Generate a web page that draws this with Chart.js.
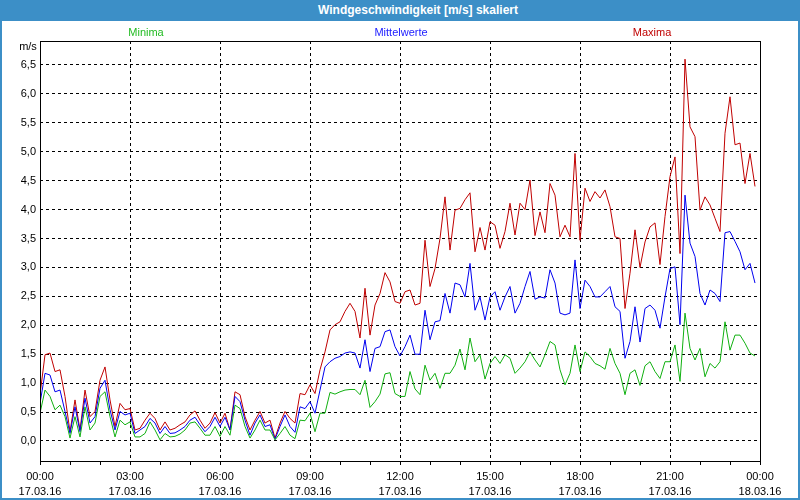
<!DOCTYPE html>
<html>
<head>
<meta charset="utf-8">
<script src="https://cdn.jsdelivr.net/npm/chart.js@4/dist/chart.umd.min.js"></script>
<style>
  html, body { margin: 0; padding: 0; background: #fff; }
  #win { position: relative; width: 800px; height: 500px; background: #3c8fc7; overflow: hidden;
         font-family: "Liberation Sans", Arial, sans-serif; }
  #title { position: absolute; left: 0; top: 0; width: 800px; height: 21px; line-height: 20px;
           color: #fff; font-weight: bold; font-size: 12px; }
  #title span { position: absolute; left: 418px; transform: translateX(-50%); white-space: nowrap; }
  #body { position: absolute; left: 2px; top: 21px; width: 796px; height: 477px; background: #fff; }
  .lbl { position: absolute; font-size: 11px; white-space: nowrap; transform: translate(-50%, -50%); }
</style>
</head>
<body>
<div id="win">
  <div id="title"><span>Windgeschwindigkeit [m/s] skaliert</span></div>
  <div id="body"><canvas id="windChart" width="796" height="477"></canvas></div>
  <div class="lbl" style="left:146px; top:32px; color:#22bb22">Minima</div>
  <div class="lbl" style="left:401px; top:32px; color:#2020ff">Mittelwerte</div>
  <div class="lbl" style="left:652px; top:32px; color:#c00000">Maxima</div>
  <div class="lbl" style="left:28px; top:46px; color:#000">m/s</div>
</div>
<script>
// 10-minute values, 17.03.16 00:00 .. 23:50
var stepHours = 1 / 6;

var minima = [0.48, 0.88, 0.77, 0.54, 0.62, 0.42, 0.05, 0.42, 0.07, 0.59, 0.19, 0.31, 0.77, 0.85, 0.42, 0.07, 0.36, 0.28, 0.33, 0.07, 0.07, 0.13, 0.33, 0.19, 0.02, 0.13, 0.07,
  0.08, 0.12, 0.19, 0.31, 0.33, 0.22, 0.10, 0.10, 0.25, 0.08, 0.25, 0.10, 0.62, 0.56, 0.25, 0.05, 0.19, 0.36, 0.19, 0.19, 0.02, 0.13, 0.25,
  0.10, 0.04, 0.36, 0.35, 0.48, 0.16, 0.48, 0.48, 0.84, 0.81, 0.85, 0.88, 0.89, 0.89, 0.80, 1.05, 0.58, 0.68, 0.81, 1.16, 1.18, 0.82, 0.77, 0.77, 1.20, 0.90, 0.80,
  1.31, 1.05, 1.17, 0.91, 1.17, 1.17, 1.31, 1.59, 1.23, 1.78, 1.37, 1.49, 1.07, 1.34, 1.46, 1.34, 1.49, 1.43, 1.17, 1.26, 1.37,
  1.54, 1.40, 1.28, 1.49, 1.72, 1.66, 1.23, 0.97, 1.17, 1.66, 1.20, 1.54, 1.46, 1.34, 1.30, 1.24, 1.60, 1.34, 1.17, 0.80, 1.17, 1.23,
  0.96, 1.30, 1.37, 1.20, 1.08, 1.37, 1.37, 1.66, 1.03, 2.21, 1.60, 1.40, 1.60, 1.11, 1.34, 1.26, 1.37, 2.06, 1.57, 1.83, 1.83, 1.69, 1.52, 1.47];

var mittelwerte = [0.65, 1.17, 1.14, 0.85, 0.88, 0.51, 0.13, 0.59, 0.16, 0.74, 0.31, 0.42, 0.91, 1.05, 0.54, 0.19, 0.51, 0.45, 0.48, 0.13, 0.19, 0.25, 0.39, 0.31, 0.13, 0.25, 0.13,
  0.14, 0.19, 0.25, 0.36, 0.41, 0.28, 0.16, 0.25, 0.41, 0.25, 0.41, 0.19, 0.77, 0.68, 0.36, 0.10, 0.31, 0.45, 0.25, 0.28, 0.03, 0.25, 0.45,
  0.25, 0.15, 0.59, 0.56, 0.68, 0.48, 0.88, 1.28, 1.37, 1.43, 1.46, 1.52, 1.54, 1.52, 1.26, 1.75, 1.20, 1.60, 1.63, 1.89, 1.92, 1.63, 1.47, 1.63, 1.83, 1.50, 1.50,
  2.26, 1.75, 2.06, 2.08, 2.55, 2.21, 2.73, 2.70, 2.49, 3.07, 2.26, 2.49, 2.09, 2.49, 2.58, 2.26, 2.49, 2.67, 2.21, 2.38, 2.67,
  2.93, 2.45, 2.49, 2.47, 2.96, 2.73, 2.21, 2.18, 2.21, 3.13, 2.29, 2.78, 2.67, 2.49, 2.49, 2.58, 2.67, 2.32, 2.24, 1.43, 1.72, 2.32,
  1.71, 2.29, 2.35, 2.26, 1.95, 2.49, 2.98, 3.01, 2.01, 4.25, 3.42, 3.19, 2.55, 2.35, 2.61, 2.55, 2.41, 3.60, 3.62, 3.45, 3.27, 2.96, 3.07, 2.73];

var maxima = [0.80, 1.49, 1.52, 1.20, 1.23, 0.77, 0.16, 0.71, 0.19, 0.88, 0.42, 0.51, 1.05, 1.28, 0.71, 0.25, 0.65, 0.54, 0.56, 0.19, 0.22, 0.36, 0.48, 0.39, 0.19, 0.33, 0.19,
  0.22, 0.28, 0.33, 0.45, 0.52, 0.36, 0.22, 0.31, 0.49, 0.31, 0.48, 0.19, 0.85, 0.80, 0.42, 0.19, 0.36, 0.51, 0.31, 0.36, 0.05, 0.31, 0.51,
  0.39, 0.31, 0.82, 0.80, 0.97, 0.82, 1.23, 1.54, 1.92, 2.01, 2.06, 2.24, 2.38, 2.24, 1.78, 2.64, 1.83, 2.35, 2.55, 2.91, 2.75, 2.41, 2.38, 2.58, 2.61, 2.35, 2.38,
  3.47, 2.67, 2.98, 3.50, 4.22, 3.30, 3.99, 4.02, 4.17, 4.29, 3.27, 3.69, 3.30, 3.79, 3.73, 3.33, 3.62, 4.11, 3.56, 4.11, 4.00,
  4.51, 3.55, 3.96, 3.60, 4.45, 4.25, 3.53, 3.73, 3.53, 4.97, 3.47, 4.37, 4.14, 4.31, 4.20, 4.34, 4.05, 3.53, 3.50, 2.29, 2.90, 3.65,
  3.00, 3.44, 3.70, 3.77, 3.05, 3.88, 4.57, 4.91, 3.24, 6.60, 5.43, 5.26, 3.99, 4.22, 4.08, 3.85, 3.62, 5.32, 5.95, 5.12, 5.15, 4.45, 4.97, 4.40];

var xTickTimes = ["00:00", "03:00", "06:00", "09:00", "12:00", "15:00", "18:00", "21:00", "00:00"];
var xTickDates = ["17.03.16", "17.03.16", "17.03.16", "17.03.16", "17.03.16", "17.03.16", "17.03.16", "17.03.16", "18.03.16"];
var yTicks = [0, 0.5, 1, 1.5, 2, 2.5, 3, 3.5, 4, 4.5, 5, 5.5, 6, 6.5];

function toPoints(values) {
  return values.map(function (v, i) { return { x: i * stepHours, y: v }; });
}

var frame = {
  id: 'frame',
  afterDraw: function (chart) {
    var a = chart.chartArea, ctx = chart.ctx;
    ctx.save();
    ctx.strokeStyle = '#000';
    ctx.lineWidth = 1;
    ctx.setLineDash([]);
    ctx.strokeRect(a.left + 0.5, a.top + 0.5, a.right - a.left, a.bottom - a.top);
    ctx.restore();
  }
};

Chart.defaults.font.family = '"Liberation Sans", Arial, sans-serif';
Chart.defaults.font.size = 11;
Chart.defaults.color = '#000';

var ctx = document.getElementById('windChart').getContext('2d');
var windChart = new Chart(ctx, {
  type: 'line',
  data: {
    datasets: [
      { label: 'Minima', data: toPoints(minima), borderColor: '#10b010' },
      { label: 'Mittelwerte', data: toPoints(mittelwerte), borderColor: '#0000f0' },
      { label: 'Maxima', data: toPoints(maxima), borderColor: '#c00000' }
    ]
  },
  options: {
    responsive: false,
    animation: false,
    devicePixelRatio: 1,
    layout: { padding: { top: 20, right: 38, left: 0, bottom: 0 } },
    elements: {
      line: { borderWidth: 1, tension: 0 },
      point: { radius: 0 }
    },
    plugins: { legend: { display: false }, tooltip: { enabled: false } },
    scales: {
      x: {
        type: 'linear',
        min: 0,
        max: 24,
        afterFit: function (s) { s.height = 37; },
        border: { display: false, dash: [3, 3] },
        grid: {
          color: function (c) {
            var v = c.tick ? c.tick.value : 0;
            return (v % 3 === 0 && v !== 0 && v !== 24) ? '#000' : 'rgba(0,0,0,0)';
          },
          tickColor: '#000',
          tickLength: 4,
          tickBorderDash: []
        },
        ticks: {
          stepSize: 1,
          autoSkip: false,
          maxRotation: 0,
          padding: 4,
          font: { lineHeight: 1.4 },
          callback: function (v) {
            if (v % 3 !== 0) return '';
            return [xTickTimes[v / 3], xTickDates[v / 3]];
          }
        }
      },
      y: {
        min: -0.346,
        max: 6.914,
        afterFit: function (s) { s.width = 38; },
        afterBuildTicks: function (s) {
          s.ticks = yTicks.map(function (v) { return { value: v }; });
        },
        border: { display: false, dash: [3, 3] },
        grid: { color: '#000', drawTicks: false },
        ticks: {
          padding: 4,
          callback: function (v) { return v.toFixed(1).replace('.', ','); }
        }
      }
    }
  },
  plugins: [frame]
});
</script>
</body>
</html>
